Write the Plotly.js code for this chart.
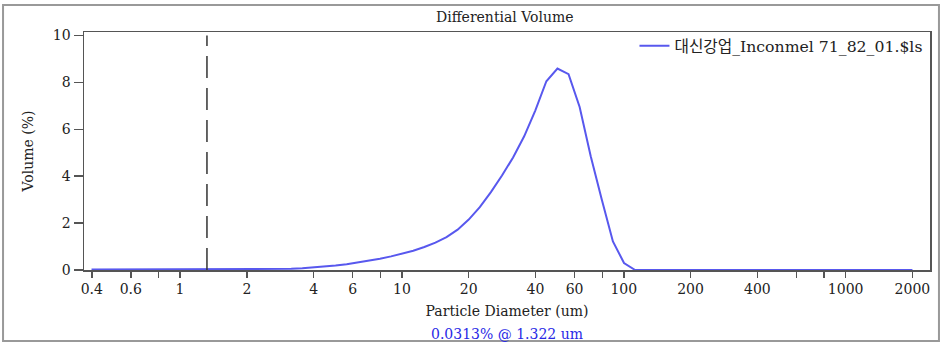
<!DOCTYPE html>
<html>
<head>
<meta charset="utf-8">
<script src="https://cdn.plot.ly/plotly-3.0.1.min.js"></script>
<style>html,body{margin:0;padding:0;background:#fff;}#chart{width:940px;height:342px;}</style>
</head>
<body>
<div id="chart"></div>
<script>
// Particle size bins (um) and differential volume (%)
const sizes = [0.399, 0.448, 0.502, 0.564, 0.632, 0.710, 0.796, 0.893, 1.002, 1.125,
  1.262, 1.416, 1.589, 1.783, 2.000, 2.244, 2.518, 2.825, 3.170, 3.557,
  3.991, 4.477, 5.024, 5.637, 6.325, 7.096, 7.962, 8.934, 10.024, 11.247,
  12.619, 14.159, 15.887, 17.825, 20.000, 22.440, 25.179, 28.251, 31.698, 35.566,
  39.905, 44.774, 50.238, 56.368, 63.246, 70.963, 79.621, 89.337, 100.237, 112.468,
  126.191, 141.589, 158.866, 178.250, 200.000, 224.404, 251.785, 282.508, 316.979, 355.656,
  399.052, 447.744, 502.377, 563.677, 632.456, 709.627, 796.214, 893.367, 1002.374, 1124.683,
  1261.915, 1415.892, 1588.656, 1782.502, 2000.000];
const volume = [0.02, 0.02, 0.02, 0.02, 0.02, 0.02, 0.02, 0.03, 0.03, 0.03,
  0.03, 0.03, 0.03, 0.03, 0.03, 0.03, 0.035, 0.04, 0.05, 0.07,
  0.10, 0.14, 0.19, 0.25, 0.32, 0.40, 0.48, 0.58, 0.69, 0.82,
  0.98, 1.17, 1.40, 1.72, 2.15, 2.68, 3.32, 4.03, 4.80, 5.70,
  6.80, 8.05, 8.59, 8.35, 6.95, 4.85, 3.00, 1.22, 0.30, 0.00,
  0, 0, 0, 0, 0, 0, 0, 0, 0, 0,
  0, 0, 0, 0, 0, 0, 0, 0, 0, 0,
  0, 0, 0, 0, 0];
const seriesName = "대신강업_Inconmel 71_82_01.$ls";
const tickVals = [0.4, 0.6, 0.8, 1, 2, 4, 6, 8, 10, 20, 40, 60, 80, 100, 200, 400, 600, 800, 1000, 2000];
const tickText = ["0.4", "0.6", "", "1", "2", "4", "6", "", "10", "20", "40", "60", "", "100", "200", "400", "", "", "1000", "2000"];
const yTicks = [0, 2, 4, 6, 8, 10];
const cursorSize = 1.322;
const cursorLabel = "0.0313% @ 1.322 um";

const serif = "DejaVu Serif, serif";
const trace = {
  x: sizes, y: volume, type: 'scatter', mode: 'lines', name: seriesName,
  line: {color: 'rgb(88,88,238)', width: 2}
};
const layout = {
  width: 940, height: 342,
  margin: {l: 84, r: 10, t: 32, b: 72},
  paper_bgcolor: '#fff', plot_bgcolor: '#fff',
  font: {family: serif, size: 14, color: '#222'},
  title: {text: 'Differential Volume', x: 0.537, xanchor: 'center', y: 0.95, yanchor: 'middle',
          font: {family: serif, size: 14, color: '#222'}},
  xaxis: {
    type: 'log', range: [Math.log10(0.369), Math.log10(2400)],
    tickmode: 'array', tickvals: tickVals, ticktext: tickText,
    ticks: 'outside', ticklen: 6, tickwidth: 1.5, tickcolor: '#555',
    showline: true, linecolor: '#555', linewidth: 1.5, mirror: true,
    showgrid: false, zeroline: false,
    tickfont: {family: serif, size: 14, color: '#222'},
    title: {text: 'Particle Diameter (um)', standoff: 10, font: {family: serif, size: 14, color: '#222'}},
    automargin: false
  },
  yaxis: {
    range: [0, 10.15], tickmode: 'array', tickvals: yTicks,
    ticks: 'outside', ticklen: 9, tickwidth: 1.5, tickcolor: '#555',
    showline: true, linecolor: '#555', linewidth: 1.5, mirror: true,
    showgrid: false, zeroline: false,
    tickfont: {family: serif, size: 14, color: '#222'},
    title: {text: 'Volume (%)', standoff: 16, font: {family: serif, size: 14, color: '#222'}},
    automargin: false
  },
  showlegend: true,
  legend: {x: 0.997, xanchor: 'right', y: 1.012, yanchor: 'top', bgcolor: 'rgba(0,0,0,0)',
           itemwidth: 30, font: {family: serif + ", Noto Sans CJK KR", size: 15.7, color: '#222'}},
  shapes: [
    {type: 'line', xref: 'x', yref: 'y', x0: cursorSize, x1: cursorSize, y0: 0, y1: 10,
     line: {color: '#333', width: 1.5, dash: '22px,10px'}},
    {type: 'rect', xref: 'paper', yref: 'paper', x0: -0.0957, x1: 1.0106, y0: -0.298, y1: 1.113,
     line: {color: '#999', width: 2}, fillcolor: 'rgba(0,0,0,0)'}
  ],
  annotations: [
    {text: cursorLabel, xref: 'paper', yref: 'paper', x: 0.5, y: -0.268, xanchor: 'center', yanchor: 'middle',
     showarrow: false, font: {family: serif, size: 14, color: 'rgb(40,40,230)'}}
  ]
};
Plotly.newPlot('chart', [trace], layout, {displayModeBar: false, staticPlot: true});
</script>
</body>
</html>
